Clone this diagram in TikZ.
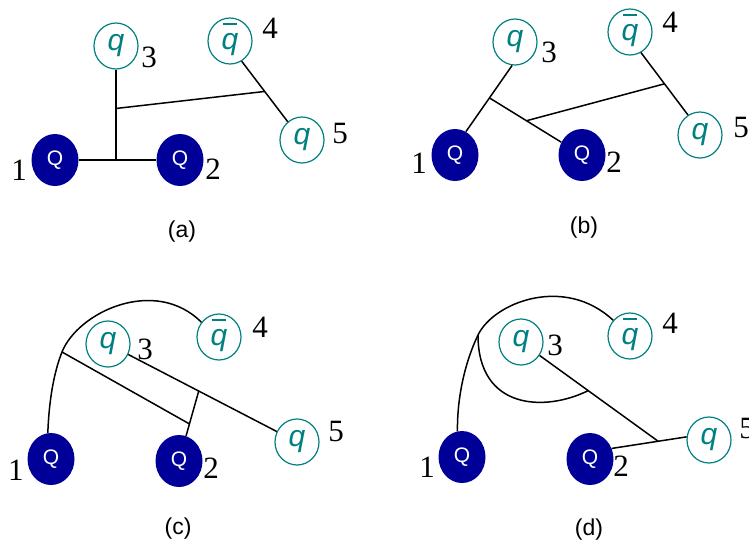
\documentclass[tikz,border=0pt]{standalone}
\usepackage{fontspec}
\setmainfont{Liberation Serif}
\setsansfont{Liberation Sans}
\usetikzlibrary{shapes.geometric,calc}
\definecolor{heavyblue}{RGB}{0,0,153}
\definecolor{lightteal}{RGB}{0,128,128}
\newcommand{\qbar}{\ooalign{q\cr\hidewidth\rule[0.8em]{0.48em}{0.075em}\hidewidth\cr}}
\begin{document}
\begin{tikzpicture}[x=1pt,y=-1pt,
		heavy/.style={ellipse,fill=heavyblue,minimum width=47pt,minimum height=52pt,inner sep=0pt,text=white,font=\sffamily\fontsize{21}{21}\selectfont},
		light/.style={ellipse,draw=lightteal,line width=1.2pt,minimum width=44pt,minimum height=46pt,inner sep=0pt,text=lightteal,font=\sffamily\itshape\fontsize{30}{30}\selectfont},
		num/.style={inner sep=0pt,font=\fontsize{31}{31}\selectfont},
		caption/.style={inner sep=0pt,font=\sffamily\fontsize{23}{23}\selectfont},
		string/.style={line width=1.5pt}]
	\useasboundingbox (0,0) rectangle (749,549);
	% (a)
	\node[heavy] (aQ1) at (55,160) {Q};
	\node[heavy] (aQ2) at (180,160) {Q};
	\node[light] (aq3) at (116,46) {q};
	\node[light] (aq4) at (230,41) {\qbar};
	\node[light] (aq5) at (302,140) {q};
	\node[num] (a1) at (19,170) {1};
	\node[num] (a2) at (213,169) {2};
	\node[num] (a3) at (149,57) {3};
	\node[num] (a4) at (270,28) {4};
	\node[num] (a5) at (340,133) {5};
	\node[caption] (acap) at (182,232) {(a)};
	\coordinate (aj) at (aq3.south |- aQ1);
	\coordinate (ak) at ($(aq4.-60)!0.5!(aq5.128)$);
	\draw[string] (aQ1) -- (aQ2);
	\draw[string] (aq3) -- (aj);
	\draw[string] (aq4.-60) -- (aq5.128);
	\draw[string] ($(aq3.south)!0.43!(aj)$) -- (ak);
	% (b)
	\node[heavy] (bQ1) at (455,155) {Q};
	\node[heavy] (bQ2) at (582,155) {Q};
	\node[light] (bq3) at (515,42) {q};
	\node[light] (bq4) at (630,32) {\qbar};
	\node[light] (bq5) at (700,135) {q};
	\node[num] (b1) at (419,163) {1};
	\node[num] (b2) at (614,162) {2};
	\node[num] (b3) at (549,52) {3};
	\node[num] (b4) at (670,22) {4};
	\node[num] (b5) at (741,127) {5};
	\node[caption] (bcap) at (584,228) {(b)};
	\coordinate (bj) at ($(bq3.263)!0.49!(bQ1.65)$);
	\coordinate (bk) at ($(bj)!0.4!(bQ2)$);
	\coordinate (bm) at ($(bq4.-62)!0.5!(bq5.121)$);
	\draw[string] (bq3.263) -- (bQ1.65);
	\draw[string] (bj) -- (bQ2);
	\draw[string] (bq4.-62) -- (bq5.121);
	\draw[string] (bk) -- (bm);
	% (c)
	\node[heavy] (cQ1) at (51,459) {Q};
	\node[heavy] (cQ2) at (179,461) {Q};
	\node[light] (cq3) at (108,344) {q};
	\node[light] (cq4) at (219,337) {\qbar};
	\node[light] (cq5) at (297,442) {q};
	\node[num] (c1) at (16,470) {1};
	\node[num] (c2) at (211,468) {2};
	\node[num] (c3) at (145,349) {3};
	\node[num] (c4) at (260,327) {4};
	\node[num] (c5) at (336,431) {5};
	\node[caption] (ccap) at (178,529) {(c)};
	\coordinate (cc) at (62,352);
	\coordinate (cm) at ($(cq3)!0.48!(cq5)$);
	\coordinate (ck) at ($(cm)!0.47!(cQ2)$);
	\draw[string] (cQ1.97) .. controls (49,400) and (54,372) .. (cc)
		.. controls (78,312) and (155,276) .. (cq4.140);
	\draw[string] (cq3) -- (cq5);
	\draw[string] (cm) -- (cQ2);
	\draw[string] (cc) -- (ck);
	% (d)
	\node[heavy] (dQ1) at (462,457) {Q};
	\node[heavy] (dQ2) at (590,459) {Q};
	\node[light] (dq3) at (521,342) {q};
	\node[light] (dq4) at (630,336) {\qbar};
	\node[light] (dq5) at (709,440) {q};
	\node[num] (d1) at (427,467) {1};
	\node[num] (d2) at (621,466) {2};
	\node[num] (d3) at (555,345) {3};
	\node[num] (d4) at (670,323) {4};
	\node[num] (d5) at (747,428) {5};
	\node[caption] (dcap) at (589,530) {(d)};
	\coordinate (dc) at (478,335);
	\coordinate (dj) at ($(dQ2.26)!0.62!(dq5.172)$);
	\coordinate (dk) at ($(dq3)!0.49!(dj)$);
	\draw[string] (dQ1.100) .. controls (457,395) and (466,360) .. (dc)
		.. controls (494,302) and (565,275) .. (dq4.137);
	\draw[string] (dc) .. controls (478,410) and (545,412) .. (dk);
	\draw[string] (dQ2.26) -- (dq5.172);
	\draw[string] (dq3) -- (dj);
\end{tikzpicture}
\end{document}
